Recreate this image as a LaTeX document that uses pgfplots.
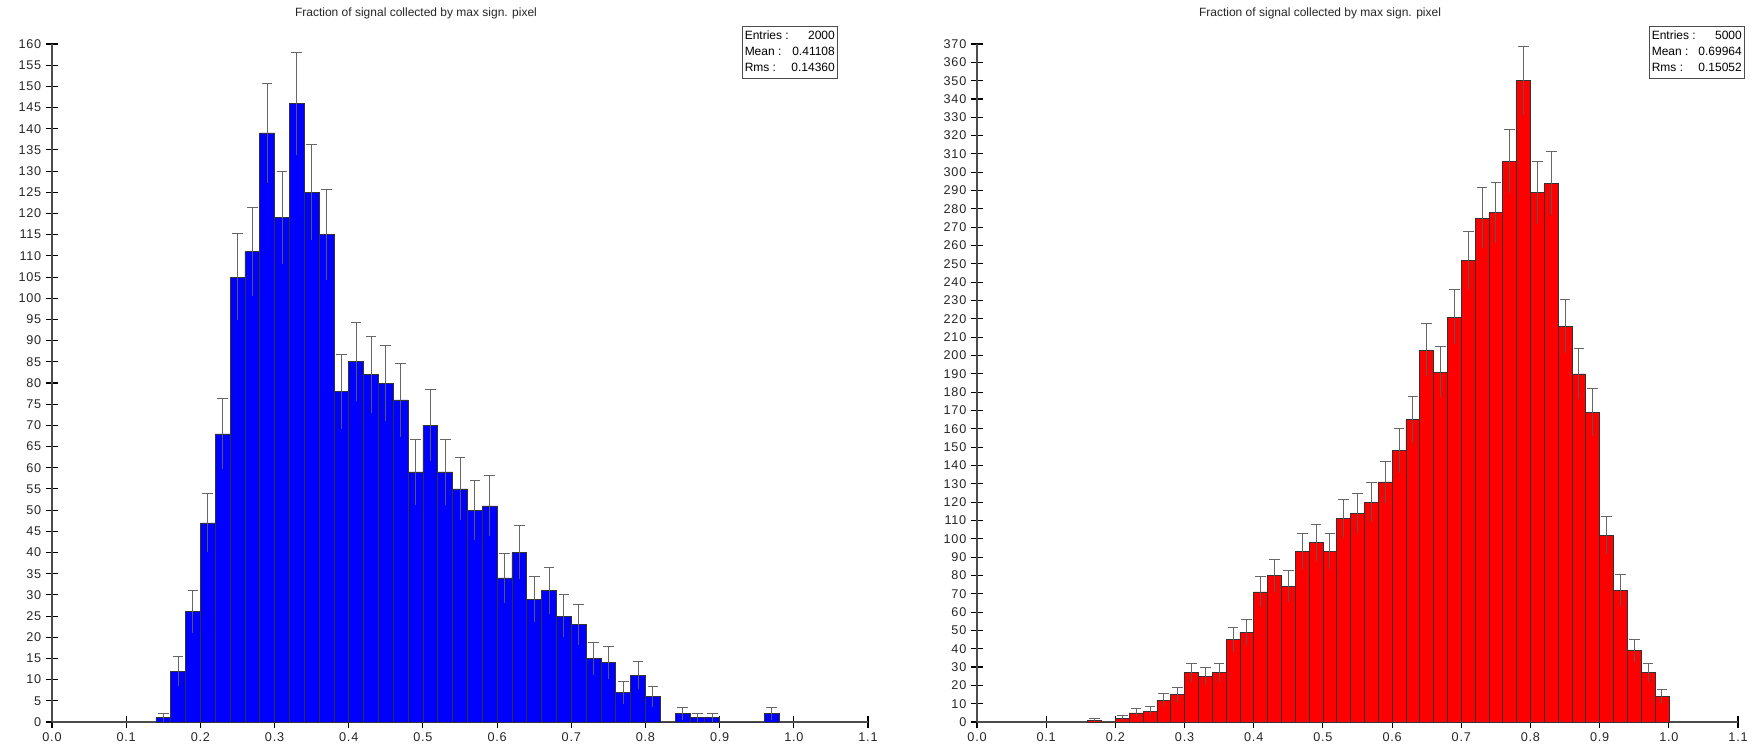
\documentclass[border=0pt]{standalone}
\usepackage{pgfplots}
\pgfplotsset{compat=1.18}
\usepackage{pgfplotstable}
\usepackage{fontspec}
\setmainfont{Liberation Sans}

\pgfplotstableread{
lo c n e
0.14 0.15 1 1.000
0.16 0.17 12 3.464
0.18 0.19 26 5.099
0.20 0.21 47 6.856
0.22 0.23 68 8.246
0.24 0.25 105 10.247
0.26 0.27 111 10.536
0.28 0.29 139 11.790
0.30 0.31 119 10.909
0.32 0.33 146 12.083
0.34 0.35 125 11.180
0.36 0.37 115 10.724
0.38 0.39 78 8.832
0.40 0.41 85 9.220
0.42 0.43 82 9.055
0.44 0.45 80 8.944
0.46 0.47 76 8.718
0.48 0.49 59 7.681
0.50 0.51 70 8.367
0.52 0.53 59 7.681
0.54 0.55 55 7.416
0.56 0.57 50 7.071
0.58 0.59 51 7.141
0.60 0.61 34 5.831
0.62 0.63 40 6.325
0.64 0.65 29 5.385
0.66 0.67 31 5.568
0.68 0.69 25 5.000
0.70 0.71 23 4.796
0.72 0.73 15 3.873
0.74 0.75 14 3.742
0.76 0.77 7 2.646
0.78 0.79 11 3.317
0.80 0.81 6 2.449
0.82 0.83 0 0
0.84 0.85 2 1.414
0.86 0.87 1 1.000
0.88 0.89 1 1.000
0.90 0.91 0 0
0.92 0.93 0 0
0.94 0.95 0 0
0.96 0.97 2 1.414
0.98 0.99 0 0
}\lefthist

\pgfplotstableread{
lo c n e
0.16 0.17 1 1.000
0.18 0.19 0 0
0.20 0.21 2 1.414
0.22 0.23 5 2.236
0.24 0.25 6 2.449
0.26 0.27 12 3.464
0.28 0.29 15 3.873
0.30 0.31 27 5.196
0.32 0.33 25 5.000
0.34 0.35 27 5.196
0.36 0.37 45 6.708
0.38 0.39 49 7.000
0.40 0.41 71 8.426
0.42 0.43 80 8.944
0.44 0.45 74 8.602
0.46 0.47 93 9.644
0.48 0.49 98 9.899
0.50 0.51 93 9.644
0.52 0.53 111 10.536
0.54 0.55 114 10.677
0.56 0.57 120 10.954
0.58 0.59 131 11.446
0.60 0.61 148 12.166
0.62 0.63 165 12.845
0.64 0.65 203 14.248
0.66 0.67 191 13.820
0.68 0.69 221 14.866
0.70 0.71 252 15.875
0.72 0.73 275 16.583
0.74 0.75 278 16.673
0.76 0.77 306 17.493
0.78 0.79 350 18.708
0.80 0.81 289 17.000
0.82 0.83 294 17.146
0.84 0.85 216 14.697
0.86 0.87 190 13.784
0.88 0.89 169 13.000
0.90 0.91 102 10.100
0.92 0.93 72 8.485
0.94 0.95 39 6.245
0.96 0.97 27 5.196
0.98 0.99 14 3.742
1.00 1.01 0 0
}\righthist

\pgfplotsset{
  histo/.style={
    scale only axis,
    anchor=origin,
    xmin=0, xmax=1.1, ymin=0,
    axis lines=left,
    axis line style={-, black!70, line width=1pt},
    tick style={black, line width=0.8pt},
    major tick length=9pt,
    tick align=center,
    xtick={0,0.1,0.2,0.3,0.4,0.5,0.6,0.7,0.8,0.9,1.0,1.1},
    xticklabel style={/pgf/number format/.cd, fixed, fixed zerofill, precision=1},
    /pgf/number format/assume math mode=true,
    tick label style={font=\fontsize{9.5}{11}\selectfont\addfontfeatures{LetterSpace=6}, text=black!85},
    clip=false,
  },
  errup/.style={draw=none, forget plot,
    restrict y to domain=0.5:10000,
    error bars/.cd, y dir=plus, y explicit,
    error bar style={draw=black!60, line width=0.7pt},
    error mark options={draw=black!60, rotate=90, mark size=4pt, line width=0.7pt}},
  errdn/.style={draw=none, forget plot,
    restrict y to domain=0.5:10000,
    error bars/.cd, y dir=minus, y explicit, error mark=none,
    error bar style={draw=black!65, line width=0.7pt}},
}

\begin{document}
\begin{tikzpicture}[x=1pt,y=1pt]
\path (0,0) rectangle (1313.25,557.25);

% left histogram
\begin{axis}[histo, at={(39pt,15.75pt)}, width=612pt, height=508.5pt,
  ymax=160, ytick distance=5]
\addplot[ybar interval, fill=blue, draw=black!80, line width=0.5pt] table[x=lo, y=n] {\lefthist};
\addplot[errdn] table[x=c, y=n, y error=e] {\lefthist};
\addplot[errup] table[x=c, y=n, y error=e] {\lefthist};
\end{axis}

% right histogram
\begin{axis}[histo, at={(732.75pt,15.75pt)}, width=570.75pt, height=508.5pt,
  ymax=370, ytick distance=10]
\addplot[ybar interval, fill=red, draw=black!80, line width=0.5pt] table[x=lo, y=n] {\righthist};
\addplot[errdn] table[x=c, y=n, y error=e] {\righthist};
\addplot[errup] table[x=c, y=n, y error=e] {\righthist};
\end{axis}

% titles
\node[font=\fontsize{9}{10}\selectfont, text=black!85] at (312pt,547.5pt) {Fraction of signal collected by max sign. pixel};
\node[font=\fontsize{9}{10}\selectfont, text=black!85] at (990pt,547.5pt) {Fraction of signal collected by max sign. pixel};

% statistics boxes
\node[draw=black!70, line width=0.8pt, fill=white, anchor=north east, inner xsep=2pt, inner ysep=1.5pt,
  font=\fontsize{9}{12}\selectfont] at (628.5pt,537.75pt)
  {\begin{tabular}{@{}l@{\hspace{2pt}}r@{}}Entries : & 2000\\ Mean : & 0.41108\\ Rms : & 0.14360\end{tabular}};
\node[draw=black!70, line width=0.8pt, fill=white, anchor=north east, inner xsep=2pt, inner ysep=1.5pt,
  font=\fontsize{9}{12}\selectfont] at (1308.75pt,537.75pt)
  {\begin{tabular}{@{}l@{\hspace{2pt}}r@{}}Entries : & 5000\\ Mean : & 0.69964\\ Rms : & 0.15052\end{tabular}};

\pgfresetboundingbox
\path (0,0) rectangle (1313.25pt,557.25pt);
\end{tikzpicture}
\end{document}
